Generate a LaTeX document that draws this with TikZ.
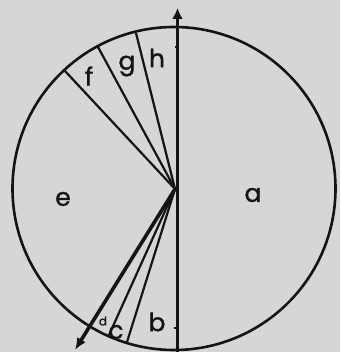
\documentclass[tikz,border=0pt]{standalone}
\usepackage{fontspec}
\setmainfont{Poppins}
\newfontfamily\lblfont{Poppins}[FakeBold=1.2]
\usetikzlibrary{arrows.meta}
\definecolor{paper}{RGB}{214,214,212}
\definecolor{ink}{RGB}{20,20,20}
\begin{document}
\begin{tikzpicture}[x=1pt,y=-1pt,
  rim/.style={draw=ink,line width=2.6pt},
  spoke/.style={draw=ink,line width=2.2pt},
  axis/.style={draw=ink,line width=2.6pt,-{Latex[length=11pt,width=11pt]}},
  pointer/.style={draw=ink,line width=3.6pt,-{Latex[length=12pt,width=10pt]}},
  tick/.style={draw=ink,line width=1.2pt},
  lab/.style={font=\lblfont\fontsize{25}{25}\selectfont,text=ink,inner sep=0pt},
  smalllab/.style={font=\lblfont\fontsize{12}{12}\selectfont,text=ink,inner sep=0pt}]
\useasboundingbox (0,0) rectangle (340,352);
\fill[paper] (0,0) rectangle (340,352);
\coordinate (C) at (174,188.5);
\coordinate (hub) at (175,189);
\coordinate (p1) at (65,71);
\coordinate (p2) at (98,47);
\coordinate (p3) at (136,33);
\coordinate (q2) at (109,335);
\coordinate (q3) at (127,342);
\coordinate (tipd) at (75,350);
\coordinate (vbot) at (177.5,352);
\coordinate (vtop) at (177.5,8);
\draw[rim] (C) circle[radius=161.5];
\draw[axis] (vbot) -- (vtop);
\draw[spoke] (hub) -- (p1);
\draw[spoke] (hub) -- (p2);
\draw[spoke] (hub) -- (p3);
\draw[spoke] (hub) -- (q2);
\draw[spoke] (hub) -- (q3);
\draw[spoke] (hub) -- (177.5,189);
\draw[pointer] (hub) -- (tipd);
\draw[tick] (174.5,47) -- (177.5,47);
\draw[tick] (173.5,328) -- (177.5,328);
\node[lab] (la) at (253,195) {a};
\node[lab] (le) at (63,199) {e};
\node[lab] (lf) at (89,76) {f};
\node[lab] (lg) at (127,66) {g};
\node[lab] (lh) at (157,58) {h};
\node[lab] (lb) at (157,322) {b};
\node[lab] (lc) at (116,332) {c};
\node[smalllab] (ld) at (103,321) {d};
\end{tikzpicture}
\end{document}
